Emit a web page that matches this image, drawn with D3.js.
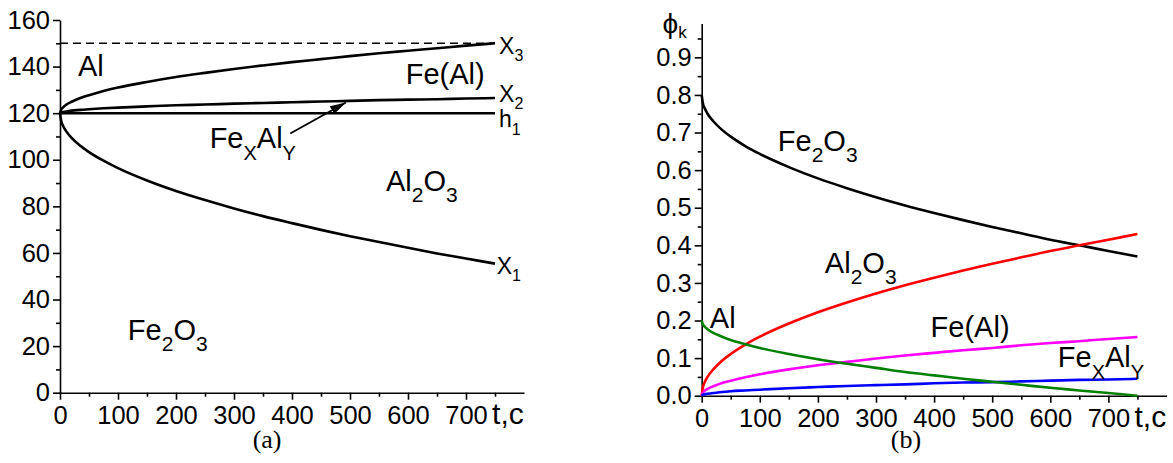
<!DOCTYPE html>
<html>
<head>
<meta charset="utf-8">
<script src="https://cdn.jsdelivr.net/npm/d3@7"></script>
<style>
  body { margin: 0; background: #fff; }
  svg text { font-family: "Liberation Sans", Arial, sans-serif; fill: #000; }
</style>
</head>
<body>
<svg id="chart" width="1173" height="463"></svg>
<script>
// time samples, seconds (shared by both panels)
const time = [0, 2, 5, 10, 20, 35, 50, 75, 100, 150, 200, 250, 300, 350, 400, 450, 500, 550, 600, 650, 700, 750];

// (a) boundary positions
const boundX3 = [120, 121.5, 122.4, 123.5, 124.9, 126.5, 127.7, 129.5, 131.0, 133.4, 135.5, 137.3, 139.0, 140.5, 141.9, 143.2, 144.5, 145.7, 146.8, 147.9, 149.0, 150.0];
const boundX2 = [120, 120.3, 120.5, 120.7, 121.1, 121.4, 121.7, 122.1, 122.4, 122.9, 123.4, 123.7, 124.1, 124.4, 124.7, 125.0, 125.3, 125.6, 125.8, 126.0, 126.3, 126.5];
const boundH1 = [120, 120, 120, 120, 120, 120, 120, 120, 120, 120, 120, 120, 120, 120, 120, 120, 120, 120, 120, 120, 120, 120];
const boundX1 = [120, 116.7, 114.7, 112.5, 109.4, 106.0, 103.3, 99.6, 96.4, 91.1, 86.6, 82.7, 79.1, 75.8, 72.8, 69.9, 67.2, 64.7, 62.2, 59.8, 57.6, 55.4];
const topLevel = 150;

// (b) phase fractions
const phiFe2O3 = [0.800, 0.778, 0.765, 0.750, 0.730, 0.707, 0.689, 0.664, 0.643, 0.608, 0.578, 0.552, 0.528, 0.506, 0.486, 0.467, 0.449, 0.432, 0.415, 0.400, 0.385, 0.370];
const phiAl2O3 = [0, 0.022, 0.035, 0.050, 0.070, 0.093, 0.111, 0.136, 0.157, 0.192, 0.222, 0.248, 0.272, 0.294, 0.314, 0.333, 0.351, 0.368, 0.385, 0.400, 0.415, 0.430];
const phiFeAl = [0, 0.008, 0.013, 0.018, 0.025, 0.034, 0.040, 0.049, 0.057, 0.070, 0.081, 0.090, 0.099, 0.107, 0.114, 0.121, 0.127, 0.134, 0.140, 0.145, 0.151, 0.156];
const phiFexAly = [0, 0.002, 0.004, 0.005, 0.007, 0.010, 0.012, 0.014, 0.016, 0.020, 0.023, 0.026, 0.028, 0.030, 0.033, 0.035, 0.036, 0.038, 0.040, 0.042, 0.043, 0.045];
const phiAl = [0.200, 0.190, 0.184, 0.177, 0.167, 0.157, 0.148, 0.137, 0.127, 0.111, 0.097, 0.085, 0.074, 0.063, 0.054, 0.045, 0.037, 0.029, 0.021, 0.014, 0.007, 0.000];

// tick labels
const xTicks = [0, 100, 200, 300, 400, 500, 600, 700];
const xMinor = [50, 150, 250, 350, 450, 550, 650, 750];
const yTicksA = [0, 20, 40, 60, 80, 100, 120, 140, 160];
const yMinorA = [10, 30, 50, 70, 90, 110, 130, 150];
const yTicksB = [0, 0.1, 0.2, 0.3, 0.4, 0.5, 0.6, 0.7, 0.8, 0.9];
const yMinorB = [0.05, 0.15, 0.25, 0.35, 0.45, 0.55, 0.65, 0.75, 0.85, 0.95];

const svg = d3.select("#chart");

svg.append("defs").append("marker")
  .attr("id", "arrow")
  .attr("viewBox", "0 0 16 9")
  .attr("refX", 16).attr("refY", 4.5)
  .attr("markerUnits", "userSpaceOnUse")
  .attr("markerWidth", 16).attr("markerHeight", 9)
  .attr("orient", "auto")
  .append("path").attr("d", "M0,0L16,4.5L0,9z").attr("fill", "#000");

const xA = d3.scaleLinear().domain([0, 800]).range([60, 524]);
const yA = d3.scaleLinear().domain([0, 160]).range([392.7, 20]);
const xB = d3.scaleLinear().domain([0, 800]).range([701.7, 1166.5]);
const yB = d3.scaleLinear().domain([0, 0.99]).range([395.7, 23.5]);

function drawAxes(x, y, yMajor, yMinor, yFmt) {
  const g = svg.append("g");
  const y0 = y.range()[0], x0 = x.range()[0];

  g.append("g").attr("transform", `translate(0,${y0})`)
    .call(d3.axisBottom(x).tickValues(xTicks).tickSize(7).tickPadding(6).tickSizeOuter(0));
  g.append("g").attr("transform", `translate(0,${y0})`)
    .call(d3.axisBottom(x).tickValues(xMinor).tickSize(4).tickFormat("").tickSizeOuter(0))
    .call(a => a.select(".domain").remove());

  g.append("g").attr("transform", `translate(${x0},0)`)
    .call(d3.axisLeft(y).tickValues(yMajor).tickSize(7).tickPadding(3).tickSizeOuter(0).tickFormat(yFmt));
  g.append("g").attr("transform", `translate(${x0},0)`)
    .call(d3.axisLeft(y).tickValues(yMinor).tickSize(4).tickFormat("").tickSizeOuter(0))
    .call(a => a.select(".domain").remove());

  g.selectAll(".domain, .tick line").attr("stroke", "#000").attr("stroke-width", 1.6);
  g.selectAll(".tick text").attr("font-size", 25.5).attr("fill", "#000")
    .attr("font-family", "Liberation Sans, Arial, sans-serif");

  // axis title in place of the last tick
  g.append("text").attr("x", x(745)).attr("y", y0 + 31.5)
    .attr("font-size", 30).text("t,c");
}

// parts: [text, isSub]
function label(x, y, parts, size, subSize, shift) {
  const t = svg.append("text").attr("x", x).attr("y", y).attr("font-size", size);
  let down = false;
  parts.forEach(([s, sub]) => {
    const sp = t.append("tspan").text(s);
    if (sub) {
      sp.attr("font-size", subSize).attr("dy", down ? 0 : shift);
      down = true;
    } else {
      sp.attr("dy", down ? -shift : 0);
      down = false;
    }
  });
  return t;
}

function drawLine(x, y, values, color, width, dash) {
  const line = d3.line()
    .x((d, i) => x(time[i]))
    .y(d => y(d))
    .curve(d3.curveMonotoneX);
  svg.append("path")
    .datum(values)
    .attr("fill", "none")
    .attr("stroke", color)
    .attr("stroke-width", width)
    .attr("stroke-dasharray", dash || null)
    .attr("d", line);
}

// ---------- panel (a) ----------
drawAxes(xA, yA, yTicksA, yMinorA, d3.format("d"));

svg.append("line")
  .attr("x1", xA(0)).attr("x2", xA(750))
  .attr("y1", yA(topLevel)).attr("y2", yA(topLevel))
  .attr("stroke", "#000").attr("stroke-width", 1.6).attr("stroke-dasharray", "8,5");

drawLine(xA, yA, boundX3, "#000", 2.6);
drawLine(xA, yA, boundX2, "#000", 2.6);
drawLine(xA, yA, boundH1, "#000", 2.6);
drawLine(xA, yA, boundX1, "#000", 2.6);

svg.append("line")
  .attr("x1", xA(397)).attr("y1", yA(111.3))
  .attr("x2", xA(493)).attr("y2", yA(124.6))
  .attr("stroke", "#000").attr("stroke-width", 1.8)
  .attr("marker-end", "url(#arrow)");

label(xA(31), yA(136.1), [["Al"]], 29);
label(xA(596), yA(132.7), [["Fe(Al)"]], 29);
label(xA(757), yA(145.6), [["X"], ["3", true]], 23, 16, 7);
label(xA(757), yA(124.6), [["X"], ["2", true]], 23, 16, 7);
label(xA(757), yA(113.9), [["h"], ["1", true]], 23, 16, 8);
label(xA(753), yA(50.9), [["X"], ["1", true]], 23, 16, 7);
label(xA(258), yA(104.9), [["Fe"], ["X", true], ["Al"], ["Y", true]], 29, 20, 12);
label(xA(562), yA(86.6), [["Al"], ["2", true], ["O"], ["3", true]], 29, 21, 11);
label(xA(117), yA(22.6), [["Fe"], ["2", true], ["O"], ["3", true]], 29, 21, 11);

svg.append("text").attr("x", xA(357)).attr("y", 448)
  .attr("text-anchor", "middle").attr("font-size", 26)
  .style("font-family", "'Liberation Serif', 'Times New Roman', serif")
  .text("(a)");

// ---------- panel (b) ----------
drawAxes(xB, yB, yTicksB, yMinorB, d3.format(".1f"));

drawLine(xB, yB, phiFe2O3, "#000", 2.6);
drawLine(xB, yB, phiAl2O3, "#ff0000", 2.6);
drawLine(xB, yB, phiFeAl, "#ff00ff", 2.6);
drawLine(xB, yB, phiFexAly, "#0000ff", 2.6);
drawLine(xB, yB, phiAl, "#008000", 2.6);

label(xB(131), yB(0.651), [["Fe"], ["2", true], ["O"], ["3", true]], 29, 21, 11);
label(xB(212), yB(0.326), [["Al"], ["2", true], ["O"], ["3", true]], 29, 21, 11);
label(xB(14), yB(0.180), [["Al"]], 29);
label(xB(394), yB(0.156), [["Fe(Al)"]], 29);
label(xB(613), yB(0.076), [["Fe"], ["X", true], ["Al"], ["Y", true]], 29, 20, 12);
label(xB(-67.5), yB(0.965), [["\u03D5"], ["k", true]], 28, 17, 5);

svg.append("text").attr("x", xB(351.6)).attr("y", 448)
  .attr("text-anchor", "middle").attr("font-size", 26)
  .style("font-family", "'Liberation Serif', 'Times New Roman', serif")
  .text("(b)");
</script>
</body>
</html>
